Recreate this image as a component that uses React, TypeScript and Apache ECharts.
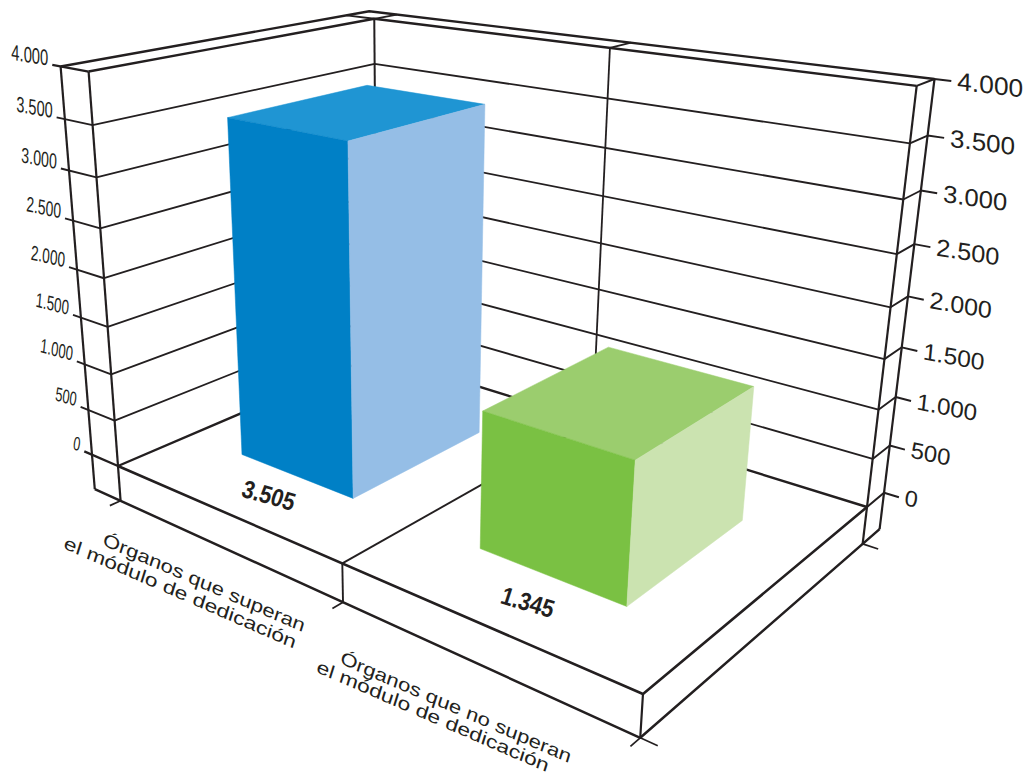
import React, { useEffect, useRef } from "react";
import * as echarts from "echarts";

const categories = ["Órganos que superan el módulo de dedicación", "Órganos que no superan el módulo de dedicación"];
const categoryLines = [
  ["Órganos que superan", "el módulo de dedicación"],
  ["Órganos que no superan", "el módulo de dedicación"],
];
const values = [3505, 1345];
const valueLabels = ["3.505", "1.345"];
const ticks = [0, 500, 1000, 1500, 2000, 2500, 3000, 3500, 4000];
const tickLabels = ["0", "500", "1.000", "1.500", "2.000", "2.500", "3.000", "3.500", "4.000"];
const faceColors = [
  { front: "#0080C6", top: "#1F95D3", side: "#95BEE6" },
  { front: "#7AC143", top: "#9BCD6E", side: "#CBE3B0" },
];

const W = 1028;
const H = 775;
const MAX = 4000;
const INK = "#231f20";
const FONT = '"Liberation Sans", Arial, sans-serif';

// Camera: s runs along the category axis (0..1), t is depth (0..1), h is value / max.
const CAM = {
  a: 361.69, b: 329.7, c: 118,
  d: 51.74, e: -44.43, f: 466,
  g: -0.25398, i: 0.18753,
  vx: -37.5, vy: -401, vw: -0.0915,
};
function project(s: number, t: number, h: number): [number, number] {
  const w = CAM.g * s + CAM.i * t + 1 + CAM.vw * h;
  return [
    (CAM.a * s + CAM.b * t + CAM.c + CAM.vx * h) / w,
    (CAM.d * s + CAM.e * t + CAM.f + CAM.vy * h) / w,
  ];
}

const WALL_L = -0.0675; // wall thickness beyond s = 0
const WALL_B = 1.097; // wall thickness beyond t = 1
const SLAB = -0.098; // floor thickness below value 0
const BAR_NEAR = 0.25;
const BAR_FAR = 0.75;

function poly(points: number[][], lineWidth: number, stroke = INK) {
  return {
    type: "polyline",
    shape: { points },
    style: { stroke, lineWidth, fill: null, lineJoin: "round" },
    silent: true,
  };
}
function label(text: string, x: number, y: number, o: any) {
  return {
    type: "text",
    x,
    y,
    rotation: (-(o.deg ?? 0) * Math.PI) / 180,
    scaleX: o.scaleX ?? 1,
    scaleY: o.scaleY ?? 1,
    skewX: ((o.skew ?? 0) * Math.PI) / 180,
    style: {
      text,
      fill: INK,
      font: `${o.weight ?? "normal"} ${o.size}px ${FONT}`,
      fontStyle: o.italic ? "italic" : "normal",
      align: o.align ?? "center",
      verticalAlign: "middle",
    },
    silent: true,
  };
}

const catLabelOffsets = [
  [[-20, 34], [-44, 44]],
  [[-24, 42], [-47, 51]],
];
const catLabelScale = [1.26, 1.3];

function renderFrame(_params: any, api: any) {
  const levelOf = (v: number) => 1 - api.coord([0, v])[1] / H;
  const sOf = (i: number) => api.coord([i, 0])[0] / W;
  const c: any[] = [];
  const P = project;

  // gridlines, walls
  ticks.forEach((tick, idx) => {
    const h = levelOf(tick);
    const thick = tick === 0 || tick === MAX;
    if (tick !== 0 && tick !== MAX) {
      c.push(poly([P(0, 0, h), P(0, 1, h), P(1, 1, h)], 1.8));
    }
    c.push(poly([P(-0.088, 0, h), P(0, 0, h)], thick ? 2.3 : 1.9));
    c.push(poly([P(1, 1, h), P(1, WALL_B, h), P(1.024, WALL_B, h)], thick ? 2.1 : 1.9));

    const frac = tick / MAX;
    const [lx, ly] = P(-0.088, 0, h);
    c.push(
      label(tickLabels[idx], lx - 4, ly - 7, {
        size: 22 - 3 * (1 - frac),
        scaleX: 0.68,
        deg: 9 + 8 * (1 - frac),
        skew: 9,
        align: "right",
      })
    );
    const [rx, ry] = P(1.024, WALL_B, h);
    c.push(
      label(tickLabels[idx], rx + 6, ry, {
        size: 25 - 2.5 * (1 - frac),
        scaleX: 1.06,
        deg: 6.5 + 6.5 * (1 - frac),
        skew: 5,
        align: "left",
      })
    );
  });

  const top = levelOf(MAX);
  const base = levelOf(0);
  // back and mid verticals
  c.push(poly([P(0, 1, base), P(0, 1, top)], 2));
  c.push(poly([P(0.5, 1, base), P(0.5, 1, top)], 1.8));
  c.push(poly([P(0, 0, SLAB), P(0, 0, top)], 2.2));
  c.push(poly([P(1, 1, SLAB), P(1, 1, top)], 2.2));
  c.push(poly([P(WALL_L, 0, SLAB), P(WALL_L, 0, top)], 2.2));
  c.push(poly([P(1, WALL_B, SLAB), P(1, WALL_B, top)], 2.2));
  // top rims
  c.push(poly([P(0, 0, top), P(0, 1, top), P(1, 1, top)], 2.4));
  c.push(poly([P(WALL_L, 0, top), P(WALL_L, WALL_B, top), P(1, WALL_B, top)], 2.4));
  c.push(poly([P(0, 1, top), P(WALL_L, 1, top)], 1.8));
  c.push(poly([P(0, 1, top), P(0, WALL_B, top)], 1.8));
  c.push(poly([P(0.5, 1, top), P(0.5, WALL_B, top)], 1.8));
  // floor
  c.push(poly([P(0, 0, base), P(0, 1, base), P(1, 1, base)], 2.4));
  c.push(poly([P(0, 0, base), P(1, 0, base), P(1, 1, base)], 2.6));
  c.push(poly([P(0.5, 0, base), P(0.5, 1, base)], 1.9));
  // slab
  c.push(poly([P(WALL_L, 0, SLAB), P(1, 0, SLAB), P(1, WALL_B, SLAB)], 2.5));
  c.push(poly([P(0.5, 0, base), P(0.5, 0, SLAB)], 1.9));
  c.push(poly([P(1, 0, base), P(1, 0, SLAB)], 2.2));
  [0, 0.5, 1].forEach((s) => c.push(poly([P(s, 0, SLAB), P(s, -0.035, SLAB)], 1.7)));
  c.push(poly([P(1, 0, SLAB), P(1.025, 0, SLAB)], 1.7));
  c.push(poly([P(1, 1, SLAB), P(1.025, 1, SLAB)], 1.7));

  // category labels
  categoryLines.forEach((lines, i) => {
    const [ax, ay] = P(sOf(i), 0, SLAB);
    lines.forEach((line, j) => {
      const [dx, dy] = catLabelOffsets[i][j];
      c.push(label(line, ax + dx, ay + dy, { size: 18, scaleX: catLabelScale[j], deg: 23.5, skew: 6 }));
    });
  });
  return { type: "group", children: c };
}

function renderBar(params: any, api: any) {
  const i = params.dataIndex;
  const pt = api.coord([api.value(0), api.value(1)]);
  const s = pt[0] / W;
  const h = 1 - pt[1] / H;
  const half = (api.size([1, 0])[0] / W) * 0.25;
  const s0 = s - half;
  const s1 = s + half;
  const col = faceColors[i];
  const P = project;
  const face = (points: number[][], fill: string) => ({
    type: "polygon",
    shape: { points },
    style: { fill, stroke: fill, lineWidth: 0.5 },
    silent: true,
  });
  const [lx, ly] = P(s + 0.016, 0.13, 0);
  return {
    type: "group",
    children: [
      face([P(s0, BAR_NEAR, h), P(s1, BAR_NEAR, h), P(s1, BAR_FAR, h), P(s0, BAR_FAR, h)], col.top),
      face([P(s0, BAR_NEAR, 0), P(s1, BAR_NEAR, 0), P(s1, BAR_NEAR, h), P(s0, BAR_NEAR, h)], col.front),
      face([P(s1, BAR_NEAR, 0), P(s1, BAR_FAR, 0), P(s1, BAR_FAR, h), P(s1, BAR_NEAR, h)], col.side),
      label(valueLabels[i], lx, ly, { size: 25, weight: "bold", italic: true, scaleX: 0.86, deg: 16, skew: -2 }),
    ],
  };
}

export default function App() {
  const ref = useRef<HTMLDivElement>(null);
  useEffect(() => {
    const chart = echarts.init(ref.current!, undefined, { renderer: "svg" });
    chart.setOption({
      animation: false,
      backgroundColor: "#ffffff",
      grid: { left: 0, top: 0, width: W, height: H },
      xAxis: { type: "category", data: categories, show: false },
      yAxis: { type: "value", min: 0, max: MAX, interval: 500, show: false },
      series: [
        {
          type: "custom",
          renderItem: renderFrame,
          data: [[0, 0]],
          encode: { x: 0, y: 1 },
          clip: false,
          silent: true,
        },
        {
          type: "custom",
          renderItem: renderBar,
          data: values.map((v, i) => [i, v]),
          encode: { x: 0, y: 1 },
          clip: false,
          silent: true,
        },
      ],
    });
    return () => chart.dispose();
  }, []);
  return <div ref={ref} style={{ position: "absolute", left: 0, top: 0, width: W, height: H }} />;
}
